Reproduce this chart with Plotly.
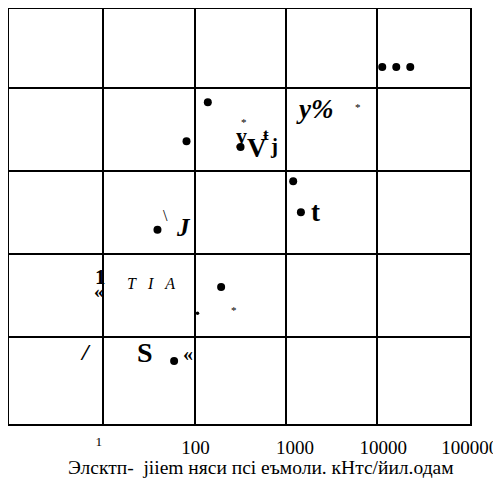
import math
import plotly.graph_objects as go

# ---- data ----
dot_x = [11520, 16420, 23400, 140.0, 81.7, 320.2, 1212, 1473, 39.2, 196.0, 59.7]
dot_y = [4.256, 4.256, 4.256, 3.831, 3.361, 3.292, 2.879, 2.506, 2.296, 1.606, 0.714]
small_dot_x = [107.9]
small_dot_y = [1.289]

label_text = ["y%", "*", "*", "*", "y", "V", "ŧ", "j", "t", "\\", "J", "1", "«",
              "T\u00a0\u00a0\u00a0I\u00a0\u00a0\u00a0A", "/", "S", "«"]
label_x = [2099, 6281, 345.4, 268.3, 328.3, 489.9, 615, 743.7, 2153, 48.0, 76.3, 9.22,
           8.99, 33.7, 6.39, 28.6, 83.8]
label_y = [3.755, 3.778, 3.590, 1.328, 3.43, 3.285, 3.44, 3.305, 2.509, 2.473, 2.320,
           1.726, 1.557, 1.642, 0.822, 0.822, 0.804]
label_size = [27, 11, 11, 11, 22, 27, 17, 21, 27, 16, 25, 21, 19, 16, 24, 28, 20]
label_bold = [1, 0, 0, 0, 1, 1, 1, 1, 1, 0, 1, 1, 1, 0, 1, 1, 1]
label_italic = [1, 0, 0, 0, 0, 0, 0, 0, 0, 0, 1, 0, 0, 1, 1, 0, 0]

tick_vals = [8.88, 102.8, 1265, 11830, 105000]
tick_text = ["<sup>1</sup>", "100", "1000", "10000", "100000"]
grid_vals = [10, 100, 1000, 10000]
x_title = "Элсктп-  jiiem няси пcі еъмоли. кНтс/йил.одам"

FONT = "Liberation Serif"

fig = go.Figure()
fig.add_trace(go.Scatter(x=dot_x, y=dot_y, mode="markers",
                         marker=dict(color="black", size=8), showlegend=False))
fig.add_trace(go.Scatter(x=small_dot_x, y=small_dot_y, mode="markers",
                         marker=dict(color="black", size=3.5), showlegend=False))

anns = []
for t, x, y, s, b, i in zip(label_text, label_x, label_y, label_size, label_bold, label_italic):
    anns.append(dict(x=math.log10(x), y=y, xref="x", yref="y", text=t,
                     showarrow=False, xanchor="center", yanchor="middle",
                     font=dict(family=FONT, size=s, color="black",
                               weight="bold" if b else "normal",
                               style="italic" if i else "normal")))
anns.append(dict(x=0.546, y=-0.104, xref="paper", yref="paper", text=x_title,
                 showarrow=False, xanchor="center", yanchor="middle",
                 font=dict(family=FONT, size=19.5, color="black")))

fig.update_layout(
    width=501, height=481,
    margin=dict(l=1, r=39, t=1, b=65),
    paper_bgcolor="white", plot_bgcolor="white",
    font=dict(family=FONT, size=19, color="black"),
    annotations=anns,
    showlegend=False,
)
fig.update_xaxes(type="log", range=[-0.037, 5.025], showgrid=False, automargin=False,
                 tickmode="array", tickvals=tick_vals, ticktext=tick_text,
                 ticks="", ticklabelstandoff=5, tickfont=dict(size=19),
                 showline=True, mirror=True, linecolor="black", linewidth=1.5,
                 zeroline=False,
                 minor=dict(tickmode="array", tickvals=grid_vals, showgrid=True,
                            gridcolor="black", gridwidth=1.5, ticks=""))
fig.update_yaxes(range=[-0.045, 4.955], tickmode="array", tickvals=[1, 2, 3, 4],
                 showticklabels=False, ticks="", showgrid=True, automargin=False,
                 gridcolor="black", gridwidth=1.5, zeroline=False,
                 showline=True, mirror=True, linecolor="black", linewidth=1.5)

fig.write_html("out.html")
